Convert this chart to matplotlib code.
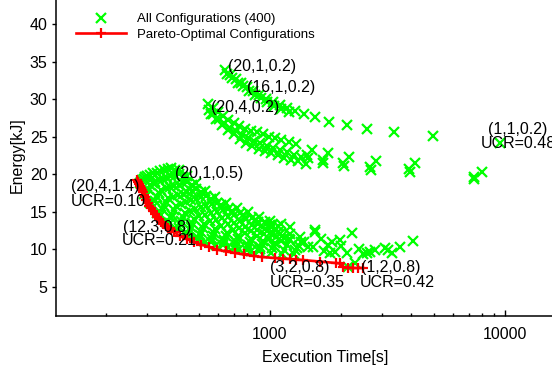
import matplotlib
matplotlib.use("Agg")
import matplotlib.pyplot as plt
from matplotlib.ticker import FixedLocator, FuncFormatter, LogLocator, NullFormatter

plt.rcParams['font.family'] = ['Liberation Sans', 'DejaVu Sans']

# (20,1,0.2) family - upper band
upper_x = [643, 676, 716, 753, 799, 847, 898, 961, 1030, 1103, 1181, 1277, 1395, 1555,
           1781, 2128, 2588, 3375, 4940, 9530,
           655, 690, 730, 770, 815, 865, 915, 975, 1045, 1120, 1200]
upper_y = [33.9, 33.2, 32.7, 32.1, 31.6, 31.1, 30.5, 30.0, 29.6, 29.2, 28.8, 28.4, 28.0, 27.6,
           26.9, 26.5, 26.0, 25.6, 25.1, 24.1,
           33.4, 32.8, 32.2, 31.7, 31.1, 30.6, 30.1, 29.6, 29.1, 28.7, 28.3]

# (20,4,0.2) family - middle band
middle_x = [545, 570, 600, 630, 665, 700, 740, 785, 830, 880, 935, 990, 1050, 1120, 1200, 1290,
            550, 575, 605, 640, 675, 715, 760, 805, 855, 910, 970, 1030, 1100, 1180, 1260, 1350,
            560, 590, 625, 660, 700, 745, 790, 840, 895, 950, 1010, 1080, 1150, 1230, 1320, 1420,
            1437, 1509, 1681, 1765, 2046, 2167, 2664, 2825, 3900, 4140, 7380, 7980,
            1450, 1690, 2060, 2680, 3930, 7400]
middle_y = [29.3, 28.8, 28.3, 27.8, 27.2, 26.8, 26.4, 26.0, 25.8, 25.6, 25.3, 25.0, 24.8, 24.6, 24.3, 24.0,
            28.5, 28.0, 27.4, 26.8, 26.2, 25.7, 25.2, 24.8, 24.4, 24.1, 23.8, 23.5, 23.2, 22.9, 22.6, 22.3,
            28.0, 27.3, 26.6, 25.9, 25.3, 24.7, 24.2, 23.8, 23.4, 23.1, 22.8, 22.5, 22.2, 21.9, 21.7, 21.4,
            22.5, 23.2, 21.9, 22.8, 21.5, 22.3, 20.9, 21.7, 20.7, 21.5, 19.6, 20.3,
            22.2, 21.5, 21.1, 20.6, 20.3, 19.3]

# lower dense band (higher UCR configurations)
lower_x = [280, 292, 308, 330, 360, 395, 435, 480, 530, 590, 660, 740, 830,
           285, 300, 320, 345, 375, 410, 450, 500, 560, 630, 710, 800, 900, 1010, 1130, 1260,
           290, 305, 325, 350, 380, 415, 455, 505, 565, 635, 715, 805, 905,
           295, 310, 330, 355, 385, 420, 460, 510, 570, 640, 720, 810, 910, 1020, 1150,
           300, 318, 338, 362, 392, 428, 468, 518, 578, 648, 728, 820, 925, 1040,
           310, 325, 345, 370, 400, 435, 475, 525, 585, 655, 735, 830, 935, 1050, 1180, 1330,
           318, 338, 360, 388, 420, 458, 500, 555, 620, 695, 780, 880, 990, 1120,
           330, 350, 375, 405, 440, 480, 530, 590, 660, 740, 830, 940, 1060, 1200, 1350,
           342, 365, 392, 425, 462, 508, 562, 625, 700, 785, 885, 1000, 1130,
           355, 380, 410, 445, 485, 535, 595, 665, 745, 840, 950, 1080, 1220,
           368, 395, 428, 465, 510, 565, 630, 705, 790, 890, 1010,
           380, 410, 445, 485, 535, 595, 665, 745, 840, 950, 1080,
           395, 428, 465, 510, 560, 620, 690, 770, 860, 960,
           410, 445, 485, 530, 585, 650, 725, 810, 900, 1000, 1110]
lower_y = [18.8, 17.3, 16.1, 14.8, 13.6, 12.8, 12.1, 11.5, 11.0, 10.6, 10.25, 9.95, 9.7,
           19.2, 17.2, 15.7, 14.6, 13.5, 12.8, 12.0, 11.4, 10.9, 10.5, 10.2, 9.9, 9.7, 9.5, 9.4, 9.3,
           19.4, 17.9, 16.4, 15.2, 14.1, 13.3, 12.5, 11.9, 11.3, 10.9, 10.55, 10.25, 10.0,
           19.6, 18.5, 17.0, 15.7, 14.6, 13.7, 13.0, 12.3, 11.7, 11.2, 10.9, 10.6, 10.3, 10.1, 9.9,
           19.8, 18.8, 17.5, 16.3, 15.2, 14.3, 13.5, 12.8, 12.2, 11.7, 11.35, 11.0, 10.7, 10.45,
           19.9, 19.0, 17.9, 16.8, 15.7, 14.8, 14.0, 13.3, 12.7, 12.2, 11.8, 11.4, 11.1, 10.8, 10.6, 10.4,
           20.1, 19.2, 18.2, 17.0, 16.0, 15.1, 14.4, 13.7, 13.1, 12.55, 12.1, 11.7, 11.35, 11.05,
           20.2, 19.3, 18.3, 17.2, 16.3, 15.4, 14.6, 13.9, 13.3, 12.8, 12.4, 12.0, 11.6, 11.3, 11.0,
           20.4, 19.5, 18.4, 17.4, 16.5, 15.6, 14.8, 14.1, 13.5, 13.0, 12.5, 12.1, 11.8,
           20.6, 19.7, 18.6, 17.6, 16.7, 15.8, 15.0, 14.3, 13.7, 13.2, 12.7, 12.3, 12.0,
           20.7, 19.8, 18.8, 17.8, 16.9, 16.0, 15.2, 14.6, 14.0, 13.4, 12.9,
           20.8, 20.0, 19.0, 18.0, 17.1, 16.2, 15.4, 14.8, 14.2, 13.6, 13.1,
           20.6, 19.6, 18.6, 17.6, 16.7, 15.9, 15.1, 14.5, 13.9, 13.4,
           20.6, 19.8, 18.8, 17.8, 17.0, 16.2, 15.5, 14.9, 14.3, 13.8, 13.4]

# scattered points to the right of the lower band
scatter_x = [4064, 3574, 3178, 2664, 2232, 1985, 1837, 1555, 1342, 1217, 1000, 1217, 1277,
             1524, 1765, 1800, 2147, 2300, 1555, 1303, 2128, 2585, 1020, 890, 783, 1030,
             1100, 1150, 1400, 1450, 1650, 1700, 1900, 2000, 2400, 2500, 2800, 3100, 3300]
scatter_y = [11.1, 10.3, 9.9, 9.6, 12.1, 11.2, 10.9, 12.5, 11.6, 12.9, 13.2, 11.2, 9.9,
             10.3, 10.5, 9.5, 7.6, 8.1, 12.3, 10.1, 9.5, 9.5, 13.2, 13.6, 14.1, 12.1,
             12.0, 11.5, 11.0, 10.3, 11.4, 9.8, 9.6, 10.4, 10.0, 9.3, 9.9, 10.1, 9.5]

# Pareto front
pareto_x = [272, 274, 277, 279, 282, 285, 288, 291, 294, 298, 303, 307, 312, 318, 324, 330,
            337, 344, 351, 360, 368, 379, 390, 414, 444, 475, 509,
            550, 594, 650, 710, 775, 855, 925, 1050, 1136, 1217, 1290, 1382, 1632, 1910,
            1985, 2046, 2147, 2256, 2366, 2490]
pareto_y = [19.2, 18.9, 18.67, 18.4, 18.13, 17.85, 17.6, 17.25, 16.93, 16.5, 16.13, 15.8,
            15.47, 15.05, 14.67, 14.3, 14.0, 13.65, 13.33, 13.05, 12.8, 12.5, 12.27,
            11.73, 11.33, 10.93, 10.6, 10.27, 9.93, 9.67, 9.47, 9.27, 9.07, 8.93, 8.8, 8.73,
            8.67, 8.6, 8.53, 8.33, 8.13, 8.07, 7.6, 7.53, 7.47, 7.47, 7.47]

all_x = upper_x + middle_x + lower_x + scatter_x
all_y = upper_y + middle_y + lower_y + scatter_y

fig = plt.figure(figsize=(5.52, 3.75), dpi=100)
ax = fig.add_axes([56 / 552, 59 / 375, 496 / 552, 316 / 375])

ax.plot(all_x, all_y, linestyle='none', marker='x', color='#00ff00', ms=7, mew=1.6,
        label='All Configurations (400)')
ax.plot(pareto_x, pareto_y, color='#ff0000', lw=1.9, marker='+', ms=7, mew=1.6,
        label='Pareto-Optimal Configurations')

ax.set_xscale('log')
ax.set_xlim(123, 15849)
ax.set_ylim(1.07, 43.2)

ax.spines['top'].set_visible(False)
ax.spines['right'].set_visible(False)
ax.spines['left'].set_linewidth(1.1)
ax.spines['bottom'].set_linewidth(1.1)

ax.xaxis.set_major_locator(FixedLocator([1000, 10000]))
ax.xaxis.set_major_formatter(FuncFormatter(lambda v, _: f"{v:g}"))
ax.xaxis.set_minor_locator(LogLocator(base=10, subs=range(2, 10)))
ax.xaxis.set_minor_formatter(NullFormatter())
ax.set_yticks([5, 10, 15, 20, 25, 30, 35, 40])

ax.tick_params(axis='x', which='major', direction='in', length=4.5, width=1, pad=8, labelsize=11.5)
ax.tick_params(axis='x', which='minor', direction='in', length=2.5, width=1)
ax.tick_params(axis='y', direction='out', length=3, width=1, pad=3, labelsize=11.5)

ax.set_xlabel('Execution Time[s]', fontsize=11.5)
ax.xaxis.set_label_coords(0.542, -0.108)
ax.set_ylabel('Energy[kJ]', fontsize=11.5)
ax.yaxis.set_label_coords(-0.064, 0.51)

fs = 11.5
ax.text(663, 34.4, '(20,1,0.2)', fontsize=fs, va='center')
ax.text(799, 31.47, '(16,1,0.2)', fontsize=fs, va='center')
ax.text(561, 28.93, '(20,4,0.2)', fontsize=fs, va='center')
ax.text(394, 20.13, '(20,1,0.5)', fontsize=fs, va='center')
ax.text(142, 18.27, '(20,4,1.4)', fontsize=fs, va='center')
ax.text(142, 16.4, 'UCR=0.10', fontsize=fs, va='center')
ax.text(237, 12.93, '(12,3,0.8)', fontsize=fs, va='center')
ax.text(235, 11.07, 'UCR=0.21', fontsize=fs, va='center')
ax.text(1000, 7.47, '(3,2,0.8)', fontsize=fs, va='center')
ax.text(1000, 5.47, 'UCR=0.35', fontsize=fs, va='center')
ax.text(2440, 7.47, '(1,2,0.8)', fontsize=fs, va='center')
ax.text(2420, 5.47, 'UCR=0.42', fontsize=fs, va='center')
ax.text(11350, 25.87, '(1,1,0.2)', fontsize=fs, va='center', ha='center')
ax.text(11350, 24.13, 'UCR=0.48', fontsize=fs, va='center', ha='center')

ax.legend(loc='upper left', bbox_to_anchor=(76 / 552, 1 - 13 / 375),
          bbox_transform=fig.transFigure, frameon=False, fontsize=9.5,
          handlelength=3.8, handletextpad=0.85, labelspacing=0.25,
          borderpad=0, borderaxespad=0, numpoints=1)

fig.savefig('out.png', dpi=100)
